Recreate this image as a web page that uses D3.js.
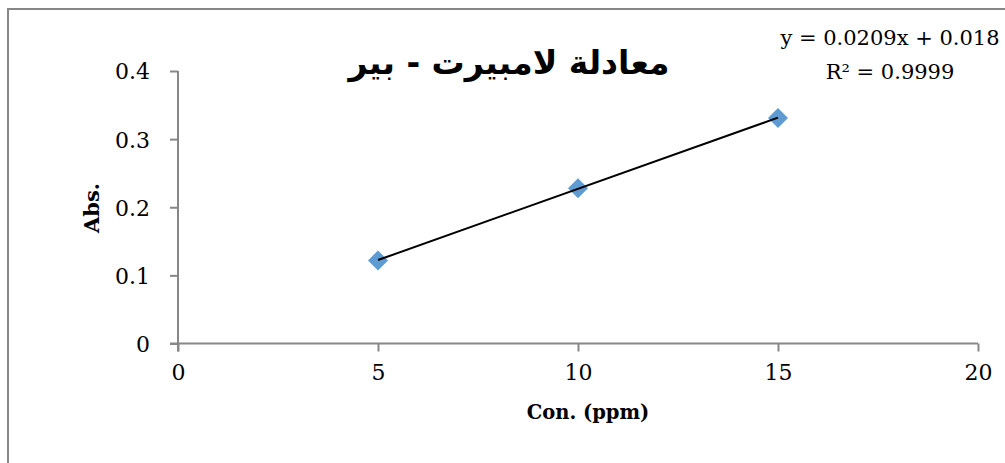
<!DOCTYPE html>
<html>
<head>
<meta charset="utf-8">
<script src="https://cdn.jsdelivr.net/npm/d3@7"></script>
<style>
  body { margin: 0; background: #fff; }
  svg { display: block; }
  .tick-label { font-family: "DejaVu Serif", serif; font-size: 22px; fill: #000; }
  .eq-label { font-family: "DejaVu Serif", serif; font-size: 21px; fill: #000; }
  .axis-title { font-family: "DejaVu Serif", serif; font-weight: bold; fill: #000; }
</style>
</head>
<body>
<svg id="chart" width="1005" height="463"></svg>
<script>
const concentrations = [5, 10, 15];
const absorbances = [0.122, 0.228, 0.331];
const xTicks = [0, 5, 10, 15, 20];
const yTicks = [0, 0.1, 0.2, 0.3, 0.4];
const title = 'معادلة لامبيرت - بير';
const xTitle = 'Con. (ppm)';
const yTitle = 'Abs.';
const eqText = 'y = 0.0209x + 0.018';
const r2Text = 'R² = 0.9999';

const svg = d3.select('#chart');
const axisColor = '#878787';

const x = d3.scaleLinear().domain([0, 20]).range([178, 978]);
const y = d3.scaleLinear().domain([0, 0.4]).range([343.5, 71]);

// chart area border (only left and top visible)
svg.append('path')
  .attr('d', 'M8,463 L8,9 L1005,9')
  .attr('fill', 'none')
  .attr('stroke', axisColor)
  .attr('stroke-width', 2);

// y axis
const yAxis = svg.append('g').attr('transform', `translate(${x(0)},0)`)
  .call(d3.axisLeft(y).tickValues(yTicks).tickSize(8).tickPadding(20).tickFormat(d3.format('')));
yAxis.select('.domain').remove();
yAxis.append('line').attr('x1', 0).attr('x2', 0).attr('y1', y(0.4)).attr('y2', y(0) + 8);
// x axis
const xAxis = svg.append('g').attr('transform', `translate(0,${y(0)})`)
  .call(d3.axisBottom(x).tickValues(xTicks).tickSize(8).tickPadding(20).tickFormat(d3.format('')));
xAxis.select('.domain').remove();
xAxis.append('line').attr('x1', x(0) - 8).attr('x2', x(20)).attr('y1', 0).attr('y2', 0);

svg.selectAll('.tick line, g > line').attr('stroke', axisColor).attr('stroke-width', 2);
svg.selectAll('.tick text').attr('class', 'tick-label').attr('fill', '#000');
yAxis.selectAll('.tick text').attr('dy', '0.36em');
xAxis.selectAll('.tick text').attr('dy', '0.71em').attr('y', 21);

// least squares trendline
const mx = d3.mean(concentrations);
const my = d3.mean(absorbances);
const slope = d3.sum(concentrations, (c, i) => (c - mx) * (absorbances[i] - my)) /
  d3.sum(concentrations, (c) => (c - mx) * (c - mx));
const intercept = my - slope * mx;
const ext = d3.extent(concentrations);

// markers
const diamond = d3.symbol().type(d3.symbolSquare).size(200);
svg.selectAll('path.pt')
  .data(concentrations)
  .enter()
  .append('path')
  .attr('class', 'pt')
  .attr('d', diamond)
  .attr('transform', (d, i) => `translate(${x(d)},${y(absorbances[i])}) rotate(45)`)
  .attr('fill', '#5f9bd3');

// trendline drawn over markers like Excel does
svg.append('line')
  .attr('x1', x(ext[0])).attr('y1', y(slope * ext[0] + intercept))
  .attr('x2', x(ext[1])).attr('y2', y(slope * ext[1] + intercept))
  .attr('stroke', '#000')
  .attr('stroke-width', 2);

// title
svg.append('text')
  .attr('x', 509)
  .attr('y', 74)
  .attr('text-anchor', 'middle')
  .attr('direction', 'rtl')
  .style('font-family', '"DejaVu Sans", sans-serif')
  .style('font-weight', 'bold')
  .style('font-size', '33px')
  .text(title);

// axis titles
svg.append('text')
  .attr('class', 'axis-title')
  .attr('transform', `translate(99,208) rotate(-90)`)
  .attr('text-anchor', 'middle')
  .style('font-size', '21px')
  .text(yTitle);

svg.append('text')
  .attr('class', 'axis-title')
  .attr('x', 588)
  .attr('y', 419)
  .attr('text-anchor', 'middle')
  .style('font-size', '19.5px')
  .text(xTitle);

// trendline equation
svg.append('text')
  .attr('class', 'eq-label')
  .attr('x', 890).attr('y', 45)
  .attr('text-anchor', 'middle')
  .text(eqText);
svg.append('text')
  .attr('class', 'eq-label')
  .attr('x', 890).attr('y', 79)
  .attr('text-anchor', 'middle')
  .text(r2Text);
</script>
</body>
</html>
